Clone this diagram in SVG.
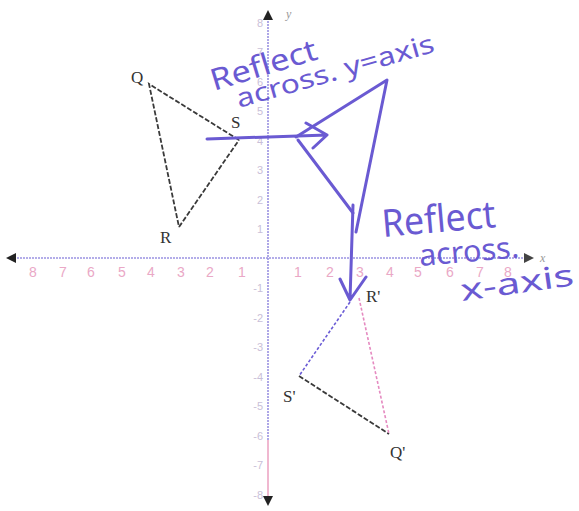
<svg xmlns="http://www.w3.org/2000/svg" width="579" height="511" viewBox="0 0 579 511">
<style>
.axis{stroke:#9a92e2;stroke-width:1.6;stroke-dasharray:2 1;fill:none}
.axisp{stroke:#f0b8d0;stroke-width:2;fill:none}
.tick{font-family:"Liberation Sans",Arial,sans-serif;font-size:14px;fill:#eaa8c6;text-anchor:middle}
.ytick{font-family:"Liberation Sans",Arial,sans-serif;font-size:11px;fill:#c9c0d8;text-anchor:end}
.seg{stroke:#3a3a3a;stroke-width:1.8;stroke-dasharray:5 2;fill:none}
.segp{stroke:#e58ac0;stroke-width:1.6;stroke-dasharray:3 2;fill:none}
.segv{stroke:#6b5cd6;stroke-width:1.6;stroke-dasharray:3 2;fill:none}
.lbl{font-family:"Liberation Serif","Times New Roman",serif;font-size:17px;fill:#333}
.ink{stroke:#6a5ad2;stroke-width:3;fill:none;stroke-linecap:round;stroke-linejoin:round}
.hand{font-family:"Noto Sans","DejaVu Sans",sans-serif;fill:#6a5ad2}
</style>
<rect width="579" height="511" fill="#ffffff"/>
<g id="axes">
<line class="axis" x1="14" y1="258" x2="528" y2="258"/>
<line class="axis" x1="268" y1="18" x2="268" y2="440"/>
<line class="axisp" x1="268" y1="440" x2="268" y2="498"/>
<polygon points="6,258 16,253 16,263" fill="#222"/>
<polygon points="534,258 524,253 524,263" fill="#444"/>
<polygon points="268,10 263,20 273,20" fill="#222"/>
<polygon points="268,506 263,496 273,496" fill="#222"/>
<text x="286" y="18" font-family="Liberation Serif,serif" font-style="italic" font-size="12" fill="#999">y</text>
<text x="540" y="262" font-family="Liberation Serif,serif" font-style="italic" font-size="12" fill="#999">x</text>
</g>
<g id="tick-labels">
<text class="tick" x="33" y="277">8</text>
<text class="tick" x="63" y="277">7</text>
<text class="tick" x="91" y="277">6</text>
<text class="tick" x="122" y="277">5</text>
<text class="tick" x="151" y="277">4</text>
<text class="tick" x="181" y="277">3</text>
<text class="tick" x="210" y="277">2</text>
<text class="tick" x="242" y="277">1</text>
<text class="tick" x="298" y="277">1</text>
<text class="tick" x="330" y="277">2</text>
<text class="tick" x="360" y="277">3</text>
<text class="tick" x="390" y="277">4</text>
<text class="tick" x="418" y="277">5</text>
<text class="tick" x="450" y="277">6</text>
<text class="tick" x="480" y="277">7</text>
<text class="tick" x="508" y="277">8</text>
<text class="ytick" x="263" y="27">8</text>
<text class="ytick" x="263" y="56">7</text>
<text class="ytick" x="263" y="86">6</text>
<text class="ytick" x="263" y="115">5</text>
<text class="ytick" x="263" y="145" fill="#444">4</text>
<text class="ytick" x="263" y="174">3</text>
<text class="ytick" x="263" y="204">2</text>
<text class="ytick" x="263" y="233">1</text>
<text class="ytick" x="263" y="292">-1</text>
<text class="ytick" x="263" y="322">-2</text>
<text class="ytick" x="263" y="351">-3</text>
<text class="ytick" x="263" y="381">-4</text>
<text class="ytick" x="263" y="410">-5</text>
<text class="ytick" x="263" y="440">-6</text>
<text class="ytick" x="263" y="469">-7</text>
<text class="ytick" x="263" y="499" fill="#d890b0">-8</text>
</g>
<g id="triangle-QRS">
<polyline class="seg" points="239,140 149,84 179,227"/>
<line class="seg" x1="179" y1="227" x2="239" y2="140" stroke="#8a86b0"/>
<text class="lbl" x="131" y="83">Q</text>
<text class="lbl" x="231" y="128" font-size="15">S</text>
<text class="lbl" x="160" y="243" font-size="13">R</text>
</g>
<g id="triangle-image">
<line class="segv" x1="350" y1="302" x2="299" y2="376"/>
<line class="seg" x1="299" y1="376" x2="389" y2="434"/>
<line class="segp" x1="359" y1="298" x2="389" y2="434"/>
<text class="lbl" x="366" y="302" font-size="13" fill="#777">R'</text>
<text class="lbl" x="283" y="402" font-size="14" fill="#6a5ad2">S'</text>
<text class="lbl" x="390" y="458" font-size="17" fill="#e58ac0">Q'</text>
</g>
<g id="connectors">
<path class="ink" d="M207,139 L327,135 M306,123 L327,135 L313,148"/>
<path class="ink" d="M296,137 L387,80 L356,232 M298,140 L353,213"/>
<path class="ink" d="M353,205 L350,300 M340,279 L350,300 L366,277"/>
</g>
<g id="annotation-y">
<text class="hand" x="214" y="91" font-size="30" textLength="110" lengthAdjust="spacingAndGlyphs" transform="rotate(-17 214 91)">Reflect</text>
<text class="hand" x="239" y="108" font-size="26" textLength="205" lengthAdjust="spacingAndGlyphs" transform="rotate(-16 239 108)">across. y=axis</text>
</g>
<g id="annotation-x">
<text class="hand" x="383" y="237" font-size="38" textLength="114" lengthAdjust="spacingAndGlyphs" transform="rotate(-5 383 237)">Reflect</text>
<text class="hand" x="420" y="266" font-size="30" textLength="100" lengthAdjust="spacingAndGlyphs" transform="rotate(-5 420 266)">across.</text>
<text class="hand" x="462" y="301" font-size="30" textLength="114" lengthAdjust="spacingAndGlyphs" transform="rotate(-8 462 301)">x-axis</text>
</g>
</svg>
